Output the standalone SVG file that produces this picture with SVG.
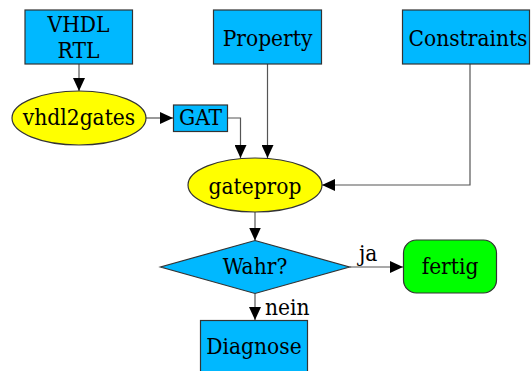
<svg xmlns="http://www.w3.org/2000/svg" width="532" height="371" viewBox="0 0 532 371">
<defs>
<marker id="ah" markerWidth="13" markerHeight="12" refX="13" refY="6" orient="auto" markerUnits="userSpaceOnUse">
<path d="M0,0 L13,6 L0,12 Z" fill="#000"/>
</marker>
<style>
.box{fill:#00b8ff;stroke:#333;stroke-width:1.2}
.ell{fill:#ffff00;stroke:#333;stroke-width:1.2}
.grn{fill:#00ff00;stroke:#333;stroke-width:1.2}
.t{font-family:"DejaVu Serif Condensed","DejaVu Serif",serif;font-stretch:condensed;font-size:22.5px;fill:#000;text-anchor:middle}
.lbl{font-family:"DejaVu Serif Condensed","DejaVu Serif",serif;font-stretch:condensed;font-size:22.5px;fill:#000}
.c{fill:none;stroke:#555;stroke-width:1.2;marker-end:url(#ah)}
</style>
</defs>
<rect width="532" height="371" fill="#fff"/>
<g id="connectors">
<path class="c" d="M79,64 V91"/>
<path class="c" d="M146,118 H173"/>
<path class="c" d="M227,118 H240.5 V158"/>
<path class="c" d="M267.5,64 V158"/>
<path class="c" d="M470,64 V185 H322"/>
<path class="c" d="M255,212 V240.5"/>
<path class="c" d="M349.5,267 H403"/>
<path class="c" d="M255,293.5 V320"/>
<text class="lbl" x="359" y="261">ja</text>
<text class="lbl" x="265" y="315">nein</text>
</g>
<g id="vhdl">
<rect class="box" x="25" y="10" width="107.5" height="54"/>
<text class="t" x="78.5" y="32">VHDL</text>
<text class="t" x="78.5" y="58">RTL</text>
</g>
<g id="property">
<rect class="box" x="213.5" y="10" width="108" height="54"/>
<text class="t" x="267.5" y="46">Property</text>
</g>
<g id="constraints">
<rect class="box" x="402.5" y="10" width="127" height="54"/>
<text class="t" x="468" y="46">Constraints</text>
</g>
<g id="vhdl2gates">
<ellipse class="ell" cx="79" cy="118" rx="67" ry="27"/>
<text class="t" x="79" y="125">vhdl2gates</text>
</g>
<g id="gat">
<rect class="box" x="173.5" y="105" width="54" height="26.5"/>
<text class="t" x="200.5" y="125">GAT</text>
</g>
<g id="gateprop">
<ellipse class="ell" cx="255" cy="185" rx="67" ry="27"/>
<text class="t" x="255" y="194">gateprop</text>
</g>
<g id="wahr">
<polygon class="box" points="255,240.5 349.5,267 255,293.5 160.5,267"/>
<text class="t" x="255" y="274">Wahr?</text>
</g>
<g id="fertig">
<rect class="grn" x="403.5" y="240" width="93" height="53" rx="13" ry="13"/>
<text class="t" x="450" y="273.5">fertig</text>
</g>
<g id="diagnose">
<rect class="box" x="200.5" y="320.5" width="107" height="52"/>
<text class="t" x="254" y="354">Diagnose</text>
</g>
</svg>
